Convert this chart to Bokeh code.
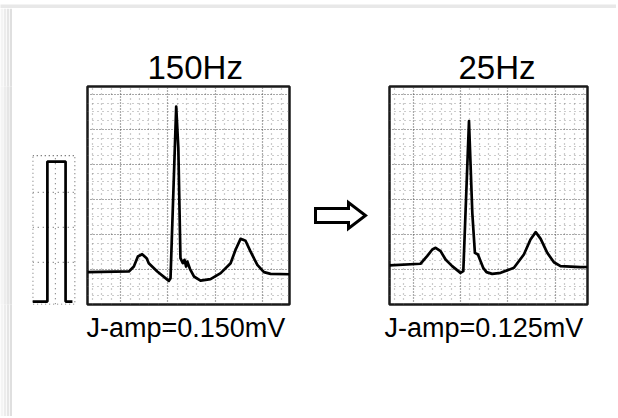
from bokeh.plotting import figure
from bokeh.layouts import row, column
from bokeh.models import Title, FixedTicker, Range1d, Grid
from bokeh.embed import file_html
from bokeh.resources import INLINE

FONT = "Liberation Sans"

# ---- data (time in ms, amplitude in mV on the paper scale) ----
cal_t = [0, 63, 63, 140, 140, 169]
cal_mv = [0.0, 0.0, 1.0, 1.0, 0.0, 0.0]

hz150_t = [1, 175, 196, 213, 231, 250, 259, 295, 344, 351, 375, 384, 393, 403, 410,
           417, 422, 433, 450, 478, 520, 563, 605, 626, 647, 668, 689, 718, 746, 774, 854]
hz150_mv = [0.231, 0.236, 0.271, 0.343, 0.359, 0.331, 0.295, 0.236, 0.169, 0.188, 1.414,
            1.117, 0.331, 0.295, 0.319, 0.271, 0.307, 0.255, 0.200, 0.171, 0.181, 0.224,
            0.295, 0.391, 0.469, 0.455, 0.379, 0.283, 0.231, 0.219, 0.216]

hz25_t = [0, 131, 159, 181, 195, 216, 237, 265, 300, 312, 336, 350, 361, 374, 385,
          396, 410, 434, 470, 526, 568, 596, 618, 639, 667, 695, 723, 808, 837]
hz25_mv = [0.279, 0.291, 0.345, 0.393, 0.405, 0.381, 0.321, 0.274, 0.226, 0.238, 1.309,
           0.655, 0.369, 0.357, 0.309, 0.262, 0.231, 0.219, 0.226, 0.262, 0.357, 0.464,
           0.517, 0.469, 0.369, 0.302, 0.274, 0.267, 0.268]

titles = ["150Hz", "25Hz"]
labels = ["J-amp=0.150mV", "J-amp=0.125mV"]

# hollow arrow outline (shape vertices in the arrow panel's own units)
arrow_x = [15, 48, 48, 65, 48, 48, 15]
arrow_y = [82, 82, 76, 89, 102, 96, 96]

# page-edge shadow shades
left_shades = ["#f4f4f4", "#ececec", "#e5e5e5", "#dfdfdf"]
top_shade = "#e8e8e8"

W = 616
H = 408          # height of the figures in the main row
BT = 78          # common top border (frames aligned in the row)
FH = 218         # frame height
BB = H - BT - FH


def add_grid(p, xmaj, xmin, ymaj, ymin):
    p.center = []
    for dim, maj, mnr in ((0, xmaj, xmin), (1, ymaj, ymin)):
        g = Grid(dimension=dim, ticker=FixedTicker(ticks=maj, minor_ticks=mnr))
        g.grid_line_color = "#444444"
        g.grid_line_dash = "1 2"
        g.grid_line_width = 1.2
        g.grid_line_alpha = 0.9
        g.minor_grid_line_color = "#777777"
        g.minor_grid_line_dash = "1 4"
        g.minor_grid_line_width = 1.2
        g.minor_grid_line_alpha = 0.75
        p.add_layout(g)


def base_fig(width, bl, br, xr, yr, height=H, bt=BT, bb=BB, fill="white"):
    return figure(width=width, height=height, x_range=xr, y_range=yr,
                  output_backend="svg", toolbar_location=None,
                  x_axis_location=None, y_axis_location=None,
                  min_border_left=bl, min_border_right=br,
                  min_border_top=bt, min_border_bottom=bb,
                  background_fill_color=fill, border_fill_color=fill)


def shade_fig(width, height, color):
    p = base_fig(width, 0, 0, Range1d(0, 1), Range1d(0, 1), height=height, bt=0, bb=0,
                 fill=color)
    p.center = []
    p.outline_line_color = None
    return p


def ecg_fig(width, bl, br, xend, xmaj, t, mv, title, label, toff, loff):
    p = base_fig(width, bl, br, Range1d(0, xend), Range1d(0, 1.557))
    xmin = [v for v in range(int(xmaj[0]) % 40, int(xend), 40) if v not in xmaj]
    ymaj = [0.25, 0.5, 0.75, 1.0, 1.25, 1.5]
    ymin = [round(0.0625 * k, 4) for k in range(1, 25) if round(0.0625 * k, 4) not in ymaj]
    add_grid(p, xmaj, xmin, ymaj, ymin)
    p.outline_line_color = "#1a1a1a"
    p.outline_line_width = 2.5
    p.line(t, mv, line_color="black", line_width=2.7, line_join="round")
    p.add_layout(Title(text=title, align="left", offset=toff, standoff=1,
                       text_font=FONT, text_font_size="33px", text_font_style="normal",
                       text_color="black"), "above")
    p.add_layout(Title(text=label, align="left", offset=loff, standoff=12,
                       text_font=FONT, text_font_size="27px", text_font_style="normal",
                       text_color="black"), "below")
    return p


# calibration pulse panel
cal = base_fig(70, 20, 7, Range1d(0, 182), Range1d(-0.021, 1.536))
cal.center = []
cal.outline_line_color = None
cal.quad(left=[1], right=[180], bottom=[-0.02], top=[1.043], fill_color=None,
         line_color="#555555", line_dash="1 3", line_width=1.3)
cal.segment(x0=[97], y0=[-0.02], x1=[97], y1=[1.043], line_color="#777777",
            line_dash="1 4", line_width=1.2)
cal.segment(x0=[1, 1, 1], y0=[0.28, 0.53, 0.78], x1=[180, 180, 180], y1=[0.28, 0.53, 0.78],
            line_color="#777777", line_dash="1 4", line_width=1.2)
cal.line(cal_t, cal_mv, line_color="black", line_width=2.7)

left = ecg_fig(218, 5, 11, 854, [140, 340, 540, 740],
               hz150_t, hz150_mv, titles[0], labels[0], 60, -1)

arr = base_fig(80, 0, 0, Range1d(0, 80), Range1d(0, 218))
arr.center = []
arr.outline_line_color = None
arr.patch(arrow_x, arrow_y, fill_color="white", line_color="black", line_width=3,
          line_join="miter")

right = ecg_fig(236, 9, 29, 837, [100, 300, 500, 700],
                hz25_t, hz25_mv, titles[1], labels[1], 69, -5)

left_strips = [shade_fig(3, H, c) for c in left_shades]
top_strip = shade_fig(W, 8, top_shade)

layout = column(top_strip, row(*left_strips, cal, left, arr, right, spacing=0), spacing=0)

open("out.html", "w").write(file_html(layout, INLINE))
